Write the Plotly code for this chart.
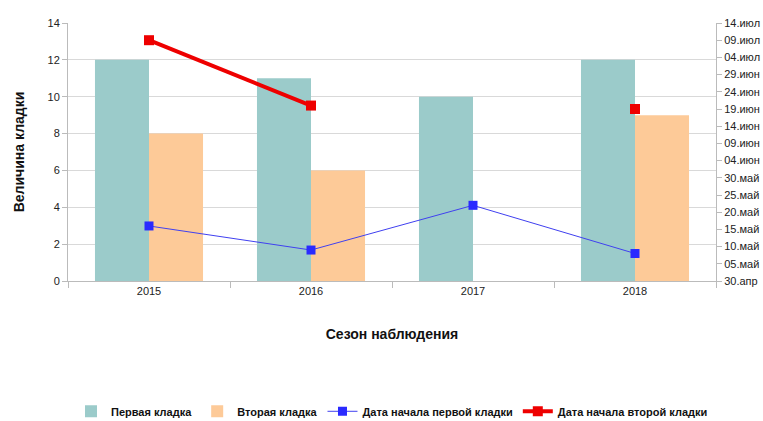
import plotly.graph_objects as go

seasons = ["2015", "2016", "2017", "2018"]
first_clutch = [12, 11, 10, 12]
second_clutch = [8, 6, None, 9]
first_start = ["2001-05-16", "2001-05-09", "2001-05-22", "2001-05-08"]
second_start = ["2001-07-09", "2001-06-20", None, "2001-06-19"]

date_tick_vals = ["2001-04-30", "2001-05-05", "2001-05-10", "2001-05-15", "2001-05-20",
                  "2001-05-25", "2001-05-30", "2001-06-04", "2001-06-09", "2001-06-14",
                  "2001-06-19", "2001-06-24", "2001-06-29", "2001-07-04", "2001-07-09",
                  "2001-07-14"]
date_tick_text = ["30.апр", "05.май", "10.май", "15.май", "20.май", "25.май", "30.май",
                  "04.июн", "09.июн", "14.июн", "19.июн", "24.июн", "29.июн", "04.июл",
                  "09.июл", "14.июл"]

font_family = "Liberation Sans, Arial, sans-serif"

fig = go.Figure()
fig.add_trace(go.Bar(x=seasons, y=first_clutch, name="Первая кладка",
                     marker=dict(color="#9BCBCA", line=dict(width=0))))
fig.add_trace(go.Bar(x=seasons, y=second_clutch, name="Вторая кладка",
                     marker=dict(color="#FDCA98", line=dict(width=0))))
fig.add_trace(go.Scatter(x=seasons, y=first_start, name="Дата начала первой кладки",
                         yaxis="y2", mode="lines+markers",
                         line=dict(color="#4040F0", width=1),
                         marker=dict(symbol="square", size=9, color="#2A2AFF")))
fig.add_trace(go.Scatter(x=seasons, y=second_start, name="Дата начала второй кладки",
                         yaxis="y2", mode="lines+markers", connectgaps=False,
                         line=dict(color="#EE0000", width=4),
                         marker=dict(symbol="square", size=10, color="#EE0000")))

fig.update_layout(
    width=763, height=421,
    margin=dict(l=68, r=47, t=23, b=140, autoexpand=False),
    paper_bgcolor="white", plot_bgcolor="white",
    font=dict(family=font_family, size=11, color="#222222"),
    barmode="group", bargap=0.333, bargroupgap=0,
    showlegend=True,
    legend=dict(orientation="h", x=0.5, xanchor="center", y=-0.505, yanchor="middle",
                font=dict(size=11, color="#111111", weight="bold"), itemwidth=30,
                tracegroupgap=0),
    xaxis=dict(type="category", showline=True, linecolor="#BBBBBB", linewidth=1,
               ticks="outside", tickson="boundaries", ticklen=6, tickcolor="#BBBBBB",
               showgrid=False, automargin=False,
               title=dict(text="<b>Сезон наблюдения</b>", font=dict(size=14, color="#111111"),
                          standoff=32)),
    yaxis=dict(range=[0, 14], dtick=2, showgrid=True, gridcolor="#D9D9D9", gridwidth=1,
               showline=True, linecolor="#BBBBBB", ticks="outside", ticklen=5,
               tickcolor="#BBBBBB", zeroline=False, automargin=False,
               title=dict(text="<b>Величина кладки</b>", font=dict(size=14, color="#111111"),
                          standoff=19)),
    yaxis2=dict(overlaying="y", side="right", type="date",
                range=["2001-04-30", "2001-07-14"],
                tickmode="array", tickvals=date_tick_vals, ticktext=date_tick_text,
                showgrid=False, showline=True, linecolor="#BBBBBB", ticks="outside",
                ticklen=5, tickcolor="#BBBBBB", zeroline=False, automargin=False),
)

fig.write_html("out.html", config={"displayModeBar": False},
               post_script="document.body.style.margin='0';document.body.style.overflow='hidden';")
